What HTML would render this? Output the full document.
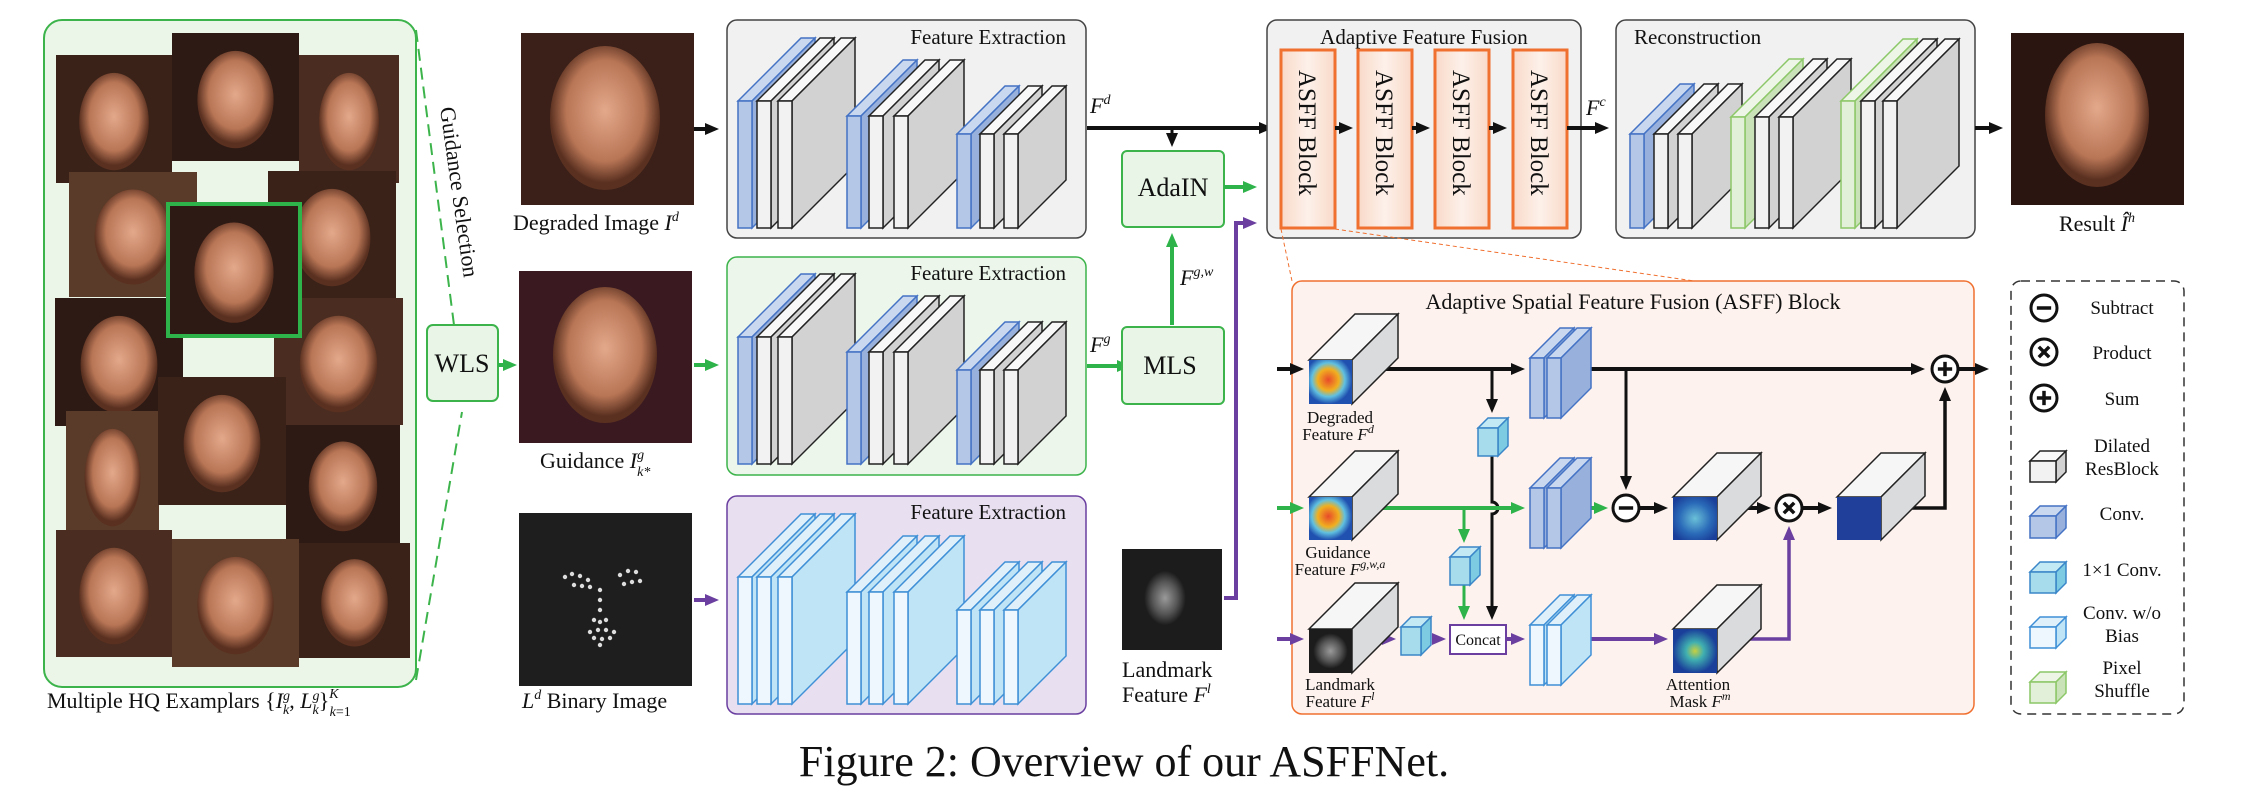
<!DOCTYPE html>
<html><head><meta charset="utf-8"><style>
html,body{margin:0;padding:0;background:#fff;}
svg{display:block;}
text{font-family:"Liberation Serif",serif;fill:#111;}
</style></head><body>
<svg id="s" width="2244" height="801" viewBox="0 0 2244 801" xmlns="http://www.w3.org/2000/svg">
<defs>
<marker id="ak" markerWidth="14" markerHeight="12" refX="9" refY="6" orient="auto" markerUnits="userSpaceOnUse"><path d="M0,0 L14,6 L0,12 Z" fill="#111"/></marker>
<marker id="ag" markerWidth="14" markerHeight="12" refX="9" refY="6" orient="auto" markerUnits="userSpaceOnUse"><path d="M0,0 L14,6 L0,12 Z" fill="#2db34a"/></marker>
<marker id="ap" markerWidth="14" markerHeight="12" refX="9" refY="6" orient="auto" markerUnits="userSpaceOnUse"><path d="M0,0 L14,6 L0,12 Z" fill="#6a3fa0"/></marker>
<radialGradient id="skin" cx="50%" cy="45%" r="50%"><stop offset="0" stop-color="#e3a88a"/><stop offset="0.7" stop-color="#b97656"/><stop offset="1" stop-color="#5a3020"/></radialGradient>
<radialGradient id="heat" cx="45%" cy="45%" r="55%"><stop offset="0" stop-color="#e84a2a"/><stop offset="0.45" stop-color="#f0b020"/><stop offset="0.7" stop-color="#60c0e0"/><stop offset="1" stop-color="#2050b0"/></radialGradient>
<radialGradient id="heat2" cx="50%" cy="50%" r="60%"><stop offset="0" stop-color="#6ac0d8"/><stop offset="0.6" stop-color="#2a6ab8"/><stop offset="1" stop-color="#1a3f9a"/></radialGradient>
<radialGradient id="att" cx="50%" cy="50%" r="50%"><stop offset="0" stop-color="#c8d040"/><stop offset="0.4" stop-color="#40b0b0"/><stop offset="1" stop-color="#1a3f9a"/></radialGradient>
<radialGradient id="lmk" cx="50%" cy="50%" r="40%"><stop offset="0" stop-color="#9a9a9a"/><stop offset="0.6" stop-color="#555"/><stop offset="1" stop-color="#1c1c1c"/></radialGradient>
<linearGradient id="asff" x1="0" x2="1"><stop offset="0" stop-color="#f9d9c8"/><stop offset="0.5" stop-color="#fdf1ea"/><stop offset="1" stop-color="#f9d9c8"/></linearGradient>
</defs>

<rect x="44" y="20" width="372" height="667" rx="18" fill="#ebf5e8" stroke="#3cb44b" stroke-width="2"/>
<g id="faces"></g>
<line x1="416" y1="30" x2="454" y2="325" stroke="#3cb44b" stroke-width="2" stroke-dasharray="12,7"/>
<line x1="416" y1="680" x2="462" y2="412" stroke="#3cb44b" stroke-width="2" stroke-dasharray="12,7"/>
<text transform="translate(440,108) rotate(82)" font-size="22">Guidance Selection</text>
<text x="47" y="708" font-size="22">Multiple HQ Examplars {<tspan font-style="italic">I</tspan><tspan font-size="14" dy="-8" font-style="italic">g</tspan><tspan font-size="14" dx="-7" dy="14" font-style="italic">k</tspan><tspan dy="-6">, </tspan><tspan font-style="italic">L</tspan><tspan font-size="14" dy="-8" font-style="italic">g</tspan><tspan font-size="14" dx="-7" dy="14" font-style="italic">k</tspan><tspan dy="-6">}</tspan><tspan font-size="14" dy="-10" font-style="italic">K</tspan><tspan font-size="14" dx="-9" dy="18" font-style="italic">k</tspan><tspan font-size="14">=1</tspan></text>

<rect x="427" y="325" width="71" height="76" rx="6" fill="#e9f5e6" stroke="#3cb44b" stroke-width="2"/>
<text x="462" y="372" font-size="26" text-anchor="middle">WLS</text>
<line x1="498" y1="365" x2="512" y2="365" stroke="#2db34a" stroke-width="4" marker-end="url(#ag)"/>

<rect x="521" y="33" width="173" height="172" fill="#3a2018"/>
<ellipse cx="605" cy="118" rx="55" ry="72" fill="url(#skin)"/>
<text x="513" y="230" font-size="22">Degraded Image <tspan font-style="italic">I</tspan><tspan font-size="14" dy="-9" font-style="italic">d</tspan></text>
<rect x="519" y="271" width="173" height="172" fill="#3a1a20"/>
<ellipse cx="605" cy="355" rx="52" ry="68" fill="url(#skin)"/>
<text x="540" y="468" font-size="22">Guidance <tspan font-style="italic">I</tspan><tspan font-size="14" dy="-9" font-style="italic">g</tspan><tspan font-size="14" dx="-7" dy="17" font-style="italic">k*</tspan></text>
<rect x="519" y="513" width="173" height="173" fill="#1e1e1e"/>
<g id="dots" fill="#ddd"></g>
<text x="522" y="708" font-size="22"><tspan font-style="italic">L</tspan><tspan font-size="14" dy="-9" font-style="italic">d</tspan><tspan dy="9"> Binary Image</tspan></text>

<line x1="694" y1="129" x2="714" y2="129" stroke="#111" stroke-width="4" marker-end="url(#ak)"/>
<line x1="694" y1="365" x2="714" y2="365" stroke="#2db34a" stroke-width="4" marker-end="url(#ag)"/>
<line x1="694" y1="600" x2="714" y2="600" stroke="#6a3fa0" stroke-width="4" marker-end="url(#ap)"/>

<rect x="727" y="20" width="359" height="218" rx="10" fill="#f0f1f0" stroke="#444" stroke-width="1.5"/>
<rect x="727" y="257" width="359" height="218" rx="10" fill="#edf6ea" stroke="#3cb44b" stroke-width="1.5"/>
<rect x="727" y="496" width="359" height="218" rx="10" fill="#e8e0f0" stroke="#6a3fa0" stroke-width="1.5"/>
<text x="1066" y="44" font-size="21" text-anchor="end">Feature Extraction</text>
<text x="1066" y="280" font-size="21" text-anchor="end">Feature Extraction</text>
<text x="1066" y="519" font-size="21" text-anchor="end">Feature Extraction</text>
<g id="slabs"></g>

<line x1="1087" y1="128" x2="1268" y2="128" stroke="#111" stroke-width="4" marker-end="url(#ak)"/>
<line x1="1172" y1="128" x2="1172" y2="142" stroke="#111" stroke-width="3" marker-end="url(#ak)"/>
<text x="1090" y="113" font-size="22" font-style="italic">F<tspan font-size="14" dy="-9">d</tspan></text>
<line x1="1087" y1="366" x2="1126" y2="366" stroke="#2db34a" stroke-width="4" marker-end="url(#ag)"/>
<text x="1090" y="352" font-size="22" font-style="italic">F<tspan font-size="14" dy="-9">g</tspan></text>
<rect x="1122" y="151" width="102" height="76" rx="5" fill="#e9f5e6" stroke="#3cb44b" stroke-width="2"/>
<text x="1173" y="196" font-size="26" text-anchor="middle">AdaIN</text>
<rect x="1122" y="327" width="102" height="77" rx="5" fill="#e9f5e6" stroke="#3cb44b" stroke-width="2"/>
<text x="1170" y="374" font-size="26" text-anchor="middle">MLS</text>
<line x1="1172" y1="325" x2="1172" y2="238" stroke="#2db34a" stroke-width="4" marker-end="url(#ag)"/>
<text x="1180" y="285" font-size="22" font-style="italic">F<tspan font-size="14" dy="-9">g,w</tspan></text>
<line x1="1224" y1="187" x2="1252" y2="187" stroke="#2db34a" stroke-width="4" marker-end="url(#ag)"/>
<path d="M1224,598 L1236,598 L1236,223 L1252,223" fill="none" stroke="#6a3fa0" stroke-width="4" marker-end="url(#ap)"/>
<rect x="1122" y="549" width="100" height="101" fill="#1c1c1c"/>
<ellipse cx="1165" cy="598" rx="26" ry="34" fill="url(#lmk)"/>
<text x="1122" y="677" font-size="22">Landmark</text>
<text x="1122" y="702" font-size="22">Feature <tspan font-style="italic">F</tspan><tspan font-size="14" dy="-9" font-style="italic">l</tspan></text>

<rect x="1267" y="20" width="314" height="218" rx="10" fill="#f0f1f0" stroke="#444" stroke-width="1.5"/>
<text x="1424" y="44" font-size="21" text-anchor="middle">Adaptive Feature Fusion</text>
<g id="asffb"></g>
<line x1="1567" y1="128" x2="1604" y2="128" stroke="#111" stroke-width="4" marker-end="url(#ak)"/>
<text x="1586" y="115" font-size="22" font-style="italic">F<tspan font-size="14" dy="-9">c</tspan></text>
<line x1="1281" y1="229" x2="1292" y2="281" stroke="#f07030" stroke-width="1" stroke-dasharray="4,3"/>
<line x1="1335" y1="229" x2="1694" y2="281" stroke="#f07030" stroke-width="1" stroke-dasharray="4,3"/>

<rect x="1616" y="20" width="359" height="218" rx="10" fill="#f0f1f0" stroke="#444" stroke-width="1.5"/>
<text x="1634" y="44" font-size="21">Reconstruction</text>
<g id="rslabs"></g>
<line x1="1975" y1="128" x2="1998" y2="128" stroke="#111" stroke-width="4" marker-end="url(#ak)"/>
<rect x="2011" y="33" width="173" height="172" fill="#2a1510"/>
<ellipse cx="2097" cy="115" rx="52" ry="72" fill="url(#skin)"/>
<text x="2097" y="231" font-size="22" text-anchor="middle">Result <tspan font-style="italic">Î</tspan><tspan font-size="14" dy="-9" font-style="italic">h</tspan></text>

<rect x="1292" y="281" width="682" height="433" rx="10" fill="#fdf2ed" stroke="#f07030" stroke-width="1.5"/>
<text x="1633" y="309" font-size="22" text-anchor="middle">Adaptive Spatial Feature Fusion (ASFF) Block</text>
<g id="asffin"></g>
<g>
<text x="1340" y="423" text-anchor="middle" font-size="17">Degraded</text>
<text x="1338" y="440" text-anchor="middle" font-size="17">Feature <tspan font-style="italic">F</tspan><tspan font-size="12" dy="-7" font-style="italic">d</tspan></text>
<text x="1338" y="558" text-anchor="middle" font-size="17">Guidance</text>
<text x="1340" y="575" text-anchor="middle" font-size="17">Feature <tspan font-style="italic">F</tspan><tspan font-size="12" dy="-7" font-style="italic">g,w,a</tspan></text>
<text x="1340" y="690" text-anchor="middle" font-size="17">Landmark</text>
<text x="1340" y="707" text-anchor="middle" font-size="17">Feature <tspan font-style="italic">F</tspan><tspan font-size="12" dy="-7" font-style="italic">l</tspan></text>
<text x="1698" y="690" text-anchor="middle" font-size="17">Attention</text>
<text x="1700" y="707" text-anchor="middle" font-size="17">Mask <tspan font-style="italic">F</tspan><tspan font-size="12" dy="-7" font-style="italic">m</tspan></text>
</g>

<rect x="2011" y="281" width="173" height="433" rx="10" fill="#fff" stroke="#333" stroke-width="1.5" stroke-dasharray="9,6"/>
<g id="leg"></g>
<g font-size="19" text-anchor="middle">
<text x="2122" y="314">Subtract</text>
<text x="2122" y="359">Product</text>
<text x="2122" y="405">Sum</text>
<text x="2122" y="452">Dilated</text>
<text x="2122" y="475">ResBlock</text>
<text x="2122" y="520">Conv.</text>
<text x="2122" y="576">1×1 Conv.</text>
<text x="2122" y="619">Conv. w/o</text>
<text x="2122" y="642">Bias</text>
<text x="2122" y="674">Pixel</text>
<text x="2122" y="697">Shuffle</text>
</g>

<text x="1124" y="776" font-size="44" text-anchor="middle">Figure 2: Overview of our ASFFNet.</text>
</svg>
<script>
var NS="http://www.w3.org/2000/svg";
function el(p,t,a){var e=document.createElementNS(NS,t);for(var k in a)e.setAttribute(k,a[k]);document.getElementById(p).appendChild(e);return e;}
var C={blue:["#b4c7e7","#c9d7ef","#97b1dc","#4472c4"],white:["#f2f2f2","#f8f8f8","#d2d2d2","#222"],lb:["#eef7fd","#dff0fb","#bfe4f6","#3f8fd6"],green:["#e2efd9","#ecf5e6","#c9e2b8","#8cc768"],cyan:["#a6dcec","#c3e9f4","#7ccbe2","#3a86c8"]};
function slab(g,x,yt,yb,w,d,c,img){
 var f=C[c];
 el(g,"polygon",{points:[x,yt,x+d,yt-d,x+w+d,yt-d,x+w,yt].join(","),fill:img?"#f6f6f6":f[1],stroke:f[3],"stroke-width":1.5});
 el(g,"polygon",{points:[x+w,yt,x+w+d,yt-d,x+w+d,yb-d,x+w,yb].join(","),fill:img?"#dadbdc":f[2],stroke:f[3],"stroke-width":1.5});
 el(g,"rect",{x:x,y:yt,width:w,height:yb-yt,fill:img||f[0],stroke:img?"none":f[3],"stroke-width":1.5});
}
function grp(g,xs,yt,yb,d,cols){for(var i=0;i<xs.length;i++)slab(g,xs[i],yt,yb,14,d,cols[i]);}
var B=["blue","white","white"],L=["lb","lb","lb"];
[[0,B],[236,B],[476,L]].forEach(function(r){
 var o=r[0];var cs=r[1];
 grp("slabs",[738,757,778],101+o,228+o,63,cs);
 grp("slabs",[847,869,894],116+o,228+o,56,cs);
 grp("slabs",[957,980,1004],134+o,228+o,48,cs);
});
grp("rslabs",[1630,1654,1678],134,228,50,["blue","white","white"]);
grp("rslabs",[1731,1755,1779],117,228,58,["green","white","white"]);
grp("rslabs",[1841,1861,1883],101,228,62,["green","white","white"]);
[1281,1358,1435,1513].forEach(function(x,i){
 el("asffb","rect",{x:x,y:50,width:54,height:178,fill:"url(#asff)",stroke:"#f07030","stroke-width":3});
 var t=el("asffb","text",{transform:"translate("+(x+18)+",70) rotate(90)","font-size":"25"});t.textContent="ASFF Block";
 if(i<3)el("asffb","line",{x1:x+54,y1:128,x2:x+67,y2:128,stroke:"#111","stroke-width":4,"marker-end":"url(#ak)"});
});
[[56,55,116,128],[172,33,127,128],[299,55,100,128],[69,172,128,125],[268,171,128,128],[55,298,128,128],[274,298,129,127],[66,411,93,128],[158,377,128,128],[286,425,114,118],[56,530,116,127],[172,539,127,128],[299,543,111,115],[168,204,132,132]].forEach(function(f,i){
 el("faces","rect",{x:f[0],y:f[1],width:f[2],height:f[3],fill:["#3a2218","#2e1a14","#4a2c20","#5a3a28"][i%4]});
 el("faces","ellipse",{cx:f[0]+f[2]/2,cy:f[1]+f[3]*0.52,rx:f[2]*0.3,ry:f[3]*0.38,fill:"url(#skin)"});
 if(i==13)el("faces","rect",{x:f[0],y:f[1],width:f[2],height:f[3],fill:"none",stroke:"#2db34a","stroke-width":4});
});
var pts=[[565,577],[572,574],[580,576],[588,580],[574,585],[582,586],[590,587],[620,575],[628,571],[636,572],[624,584],[632,582],[640,581],[600,590],[600,600],[600,610],[594,620],[600,622],[606,620],[590,632],[598,630],[606,630],[614,632],[594,638],[602,639],[610,638],[600,645]];
pts.forEach(function(p){el("dots","circle",{cx:p[0],cy:p[1],r:2.2});});
var A="asffin";
function ln(d,c,m,w){el(A,"path",{d:d,fill:"none",stroke:c,"stroke-width":w||4,"marker-end":m?"url(#"+m+")":""});}
var K="#111",G="#2db34a",P="#6a3fa0";
ln("M1277,369 L1299,369",K,"ak");ln("M1277,508 L1299,508",G,"ag");ln("M1277,639 L1299,639",P,"ap");
ln("M1376,369 L1520,369",K,"ak");
ln("M1492,369 L1492,408",K,"ak",3);
ln("M1492,456 L1492,502 a6,6 0 0 1 0,12 L1492,615",K,"ak",3);
ln("M1376,508 L1520,508",G,"ag");
ln("M1464,508 L1464,538",G,"ag",3);ln("M1464,585 L1464,615",G,"ag",3);
ln("M1591,369 L1920,369",K,"ak");
ln("M1626,369 L1626,485",K,"ak",3);
ln("M1591,508 L1603,508",G,"ag");
ln("M1640,508 L1663,508",K,"ak");
ln("M1745,508 L1766,508",K,"ak");
ln("M1803,508 L1827,508",K,"ak");
ln("M1908,508 L1945,508 L1945,392",K,"ak",3.5);
ln("M1959,369 L1984,369",K,"ak");
ln("M1376,639 L1391,639",P,"ap");ln("M1432,639 L1441,639",P,"ap");ln("M1506,639 L1520,639",P,"ap");
ln("M1591,639 L1663,639",P,"ap");
ln("M1746,639 L1789,639 L1789,531",P,"ap",3.5);
slab(A,1309,360,404,43,46,"white","url(#heat)");
slab(A,1309,497,540,43,46,"white","url(#heat)");
slab(A,1309,629,673,43,46,"white","url(#lmk)");
slab(A,1673,497,540,44,44,"white","url(#heat2)");
slab(A,1837,497,540,44,44,"white","#1f3f9a");
slab(A,1673,629,673,44,44,"white","url(#att)");
grp(A,[1530,1547],358,418,30,["blue","blue"]);
grp(A,[1530,1547],488,548,30,["blue","blue"]);
grp(A,[1530,1547],625,685,30,["lb","lb"]);
slab(A,1478,428,456,20,10,"cyan");
slab(A,1450,557,585,20,10,"cyan");
slab(A,1401,627,655,20,10,"cyan");
el(A,"rect",{x:1450,y:625,width:56,height:29,fill:"#fff",stroke:P,"stroke-width":2});
var t=el(A,"text",{x:1478,y:645,"font-size":"16","text-anchor":"middle"});t.textContent="Concat";
function circ(g,cx,cy,r,s){el(g,"circle",{cx:cx,cy:cy,r:r,fill:"#fff",stroke:"#111","stroke-width":3});
 el(g,"line",{x1:cx-r*0.55,y1:cy,x2:cx+r*0.55,y2:cy,stroke:"#111","stroke-width":3.5});
 if(s=="+")el(g,"line",{x1:cx,y1:cy-r*0.55,x2:cx,y2:cy+r*0.55,stroke:"#111","stroke-width":3.5});
}
function circX(g,cx,cy,r){el(g,"circle",{cx:cx,cy:cy,r:r,fill:"#fff",stroke:"#111","stroke-width":3});
 el(g,"line",{x1:cx-r*0.4,y1:cy-r*0.4,x2:cx+r*0.4,y2:cy+r*0.4,stroke:"#111","stroke-width":3.5});el(g,"line",{x1:cx+r*0.4,y1:cy-r*0.4,x2:cx-r*0.4,y2:cy+r*0.4,stroke:"#111","stroke-width":3.5});}
circ(A,1626,508,13,"-");circX(A,1789,508,13);circ(A,1945,369,13,"+");
circ("leg",2044,308,13,"-");circX("leg",2044,352,13);circ("leg",2044,398,13,"+");
slab("leg",2030,461,482,26,10,"white");
slab("leg",2030,516,538,26,10,"blue");
slab("leg",2030,572,593,26,10,"cyan");
slab("leg",2030,627,648,26,10,"lb");
slab("leg",2030,682,703,26,10,"green");
</script>
</body></html>
